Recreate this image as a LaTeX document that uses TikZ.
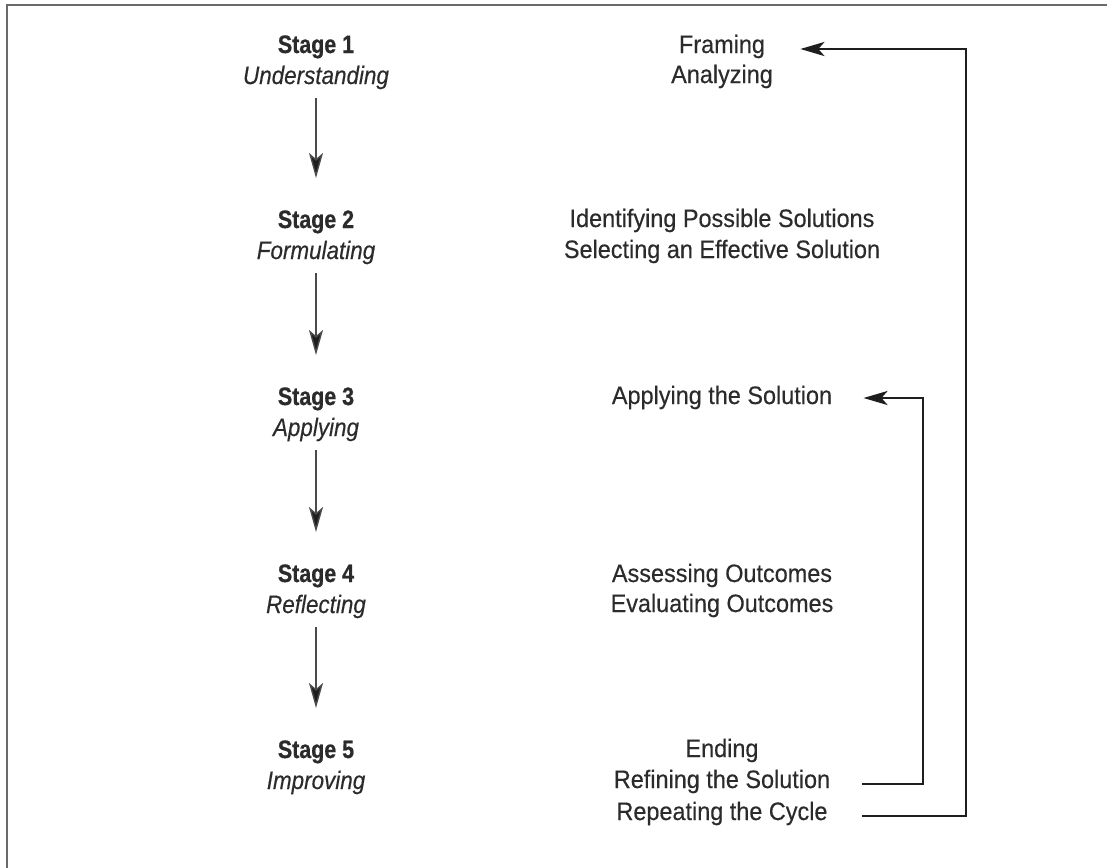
\documentclass[tikz,border=0pt]{standalone}
\usepackage{fontspec}
\setmainfont{Liberation Sans}[FakeStretch=0.93,FakeBold=0.35]
\newfontfamily\stagefont{Liberation Sans}[FakeStretch=0.85,FakeBold=0.7]
\newfontfamily\itfont{Liberation Sans}[FakeStretch=0.89,FakeBold=0.35]
\usetikzlibrary{arrows.meta,calc}
\definecolor{ink}{HTML}{2B2B2B}
\definecolor{lineink}{HTML}{1E1E1E}
\definecolor{framec}{HTML}{6A6A6A}
\begin{document}
\begin{tikzpicture}[x=0.5pt,y=-0.5pt,
  txt/.style={anchor=base, inner sep=0pt, text=ink, font=\fontsize{12.6}{15}\selectfont},
  stg/.style={anchor=base, inner sep=0pt, text=ink, font=\stagefont\bfseries\fontsize{12.6}{15}\selectfont},
  stgname/.style={anchor=base, inner sep=0pt, text=ink, font=\itfont\itshape\fontsize{12.6}{15}\selectfont},
  down/.style={draw=ink!85, line width=0.7pt, -{Stealth[length=12.5pt,width=7pt,inset=3pt,fill=lineink]}, shorten <=4pt, shorten >=16pt},
  fb/.style={draw=lineink, line width=1.3pt, -{Stealth[length=12pt,width=7pt,inset=3pt]}},
  frame/.style={draw=framec, line width=1.1pt}]
\useasboundingbox (0,0) rectangle (1107,867);
\draw[frame] (6.7,880) -- (6.7,5) -- (1120,5);

% left column
\node[stg] (s1) at (316,53) {Stage 1};
\node[stgname] (u1) at (316,84) {Understanding};
\node[stg] (s2) at (316,228) {Stage 2};
\node[stgname] (f2) at (316,259) {Formulating};
\node[stg] (s3) at (316,405) {Stage 3};
\node[stgname] (a3) at (316,436) {Applying};
\node[stg] (s4) at (316,582) {Stage 4};
\node[stgname] (r4) at (316,613) {Reflecting};
\node[stg] (s5) at (316,758) {Stage 5};
\node[stgname] (i5) at (316,789) {Improving};

\draw[down] (u1.south) -- (s2.north);
\draw[down] (f2.south) -- (s3.north);
\draw[down] (a3.south) -- (s4.north);
\draw[down] (r4.south) -- (s5.north);

% right column
\node[txt] (fr) at (722,53) {Framing};
\node[txt] (an) at (722,83) {Analyzing};
\node[txt] (id) at (722,227) {Identifying Possible Solutions};
\node[txt] (se) at (722,258) {Selecting an Effective Solution};
\node[txt] (ap) at (722,404) {Applying the Solution};
\node[txt] (as) at (722,582) {Assessing Outcomes};
\node[txt] (ev) at (722,612) {Evaluating Outcomes};
\node[txt] (en) at (722,757) {Ending};
\node[txt] (rf) at (722,788) {Refining the Solution};
\node[txt] (rp) at (722,820) {Repeating the Cycle};

\coordinate (ls) at (862,0);
\coordinate (xi) at (923,0);
\coordinate (xo) at (966,0);

\draw[fb, shorten >=17.5pt] ($(ls |- rp.base)+(0,-4)$) -| ($(xo |- fr.base)+(0,-4)$) -- ($(fr.base east)+(0,-4)$);
\draw[fb, shorten >=15.5pt] ($(ls |- rf.base)+(0,-4)$) -| ($(xi |- ap.base)+(0,-6)$) -- ($(ap.base east)+(0,-6)$);
\end{tikzpicture}
\end{document}
